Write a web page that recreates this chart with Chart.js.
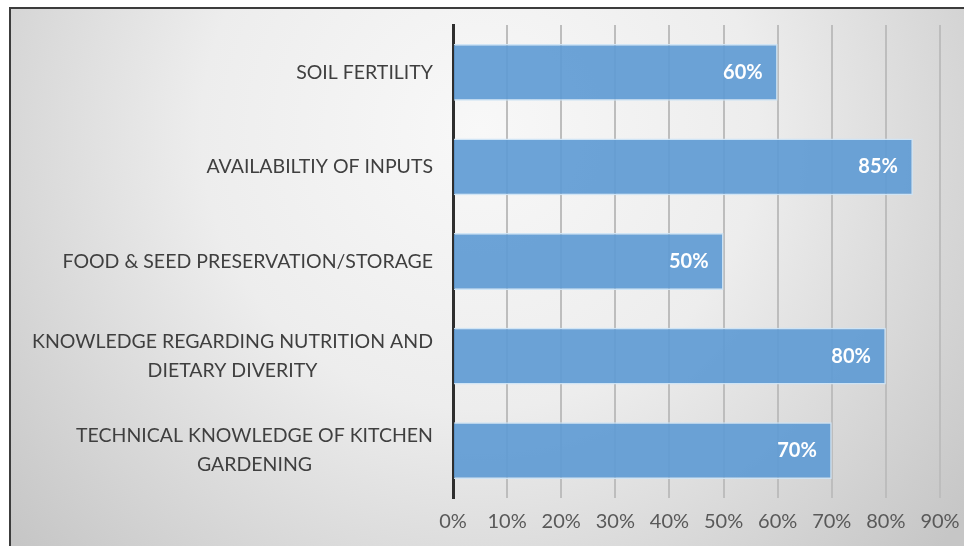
<!DOCTYPE html>
<html>
<head>
<meta charset="utf-8">
<script src="https://cdn.jsdelivr.net/npm/chart.js@4.4.1/dist/chart.umd.min.js"></script>
<style>
  html, body { margin: 0; padding: 0; background: #ffffff; }
  #wrap { position: relative; width: 964px; height: 546px; }
</style>
</head>
<body>
<div id="wrap"><canvas id="chart" width="964" height="546"></canvas></div>
<script>
// Constraints reported by respondents (share, %)
const categories = [
  ['SOIL FERTILITY'],
  ['AVAILABILTIY OF INPUTS'],
  ['FOOD & SEED PRESERVATION/STORAGE'],
  ['KNOWLEDGE REGARDING NUTRITION AND', 'DIETARY DIVERITY'],
  ['TECHNICAL KNOWLEDGE OF KITCHEN', 'GARDENING']
];
const shares = [60, 85, 50, 80, 70];
const tickValues = [0, 10, 20, 30, 40, 50, 60, 70, 80, 90];

const FONT = 'Lato, "Open Sans", sans-serif';

// Soft grey panel with a thin frame on the top and left edges
const panelBackground = {
  id: 'panelBackground',
  beforeDraw(chart) {
    const { ctx, width, height } = chart;
    ctx.save();
    ctx.fillStyle = '#ffffff';
    ctx.fillRect(0, 0, width, height);
    const g = ctx.createRadialGradient(480, 130, 0, 480, 130, 620);
    g.addColorStop(0, '#f8f8f8');
    g.addColorStop(0.45, '#ededed');
    g.addColorStop(1, '#c6c6c6');
    ctx.fillStyle = g;
    ctx.fillRect(9, 7, width - 9, height - 7);
    ctx.strokeStyle = '#3c3c3c';
    ctx.lineWidth = 2;
    ctx.beginPath();
    ctx.moveTo(width, 8);
    ctx.lineTo(10, 8);
    ctx.lineTo(10, height);
    ctx.stroke();
    ctx.restore();
  }
};

// Category names, lines centred within each right-aligned block
const categoryLabels = {
  id: 'categoryLabels',
  afterDraw(chart) {
    const { ctx } = chart;
    const y = chart.scales.y;
    const right = chart.chartArea.left - 20;
    const lineH = 29;
    ctx.save();
    ctx.font = '19.5px ' + FONT;
    ctx.fillStyle = '#3f3f3f';
    ctx.textAlign = 'center';
    ctx.textBaseline = 'middle';
    categories.forEach((lines, i) => {
      const cy = y.getPixelForValue(i);
      const w = Math.max(...lines.map(l => ctx.measureText(l).width));
      const cx = right - w / 2;
      const y0 = cy - (lines.length - 1) * lineH / 2;
      lines.forEach((l, k) => ctx.fillText(l, cx, y0 + k * lineH));
    });
    ctx.restore();
  }
};

// Value labels inside the end of each bar
const valueLabels = {
  id: 'valueLabels',
  afterDatasetsDraw(chart) {
    const { ctx } = chart;
    const meta = chart.getDatasetMeta(0);
    ctx.save();
    ctx.font = 'bold 20px ' + FONT;
    ctx.fillStyle = '#ffffff';
    ctx.textAlign = 'right';
    ctx.textBaseline = 'middle';
    meta.data.forEach((bar, i) => {
      ctx.fillText(shares[i] + '%', bar.x - 15, bar.y);
    });
    ctx.restore();
  }
};

new Chart(document.getElementById('chart'), {
  type: 'bar',
  data: {
    labels: categories.map(c => c.join(' ')),
    datasets: [{
      data: shares,
      backgroundColor: 'rgba(96,155,212,0.92)',
      borderColor: 'rgba(205,228,246,0.95)',
      borderWidth: 1.5,
      categoryPercentage: 1,
      barPercentage: 0.6
    }]
  },
  options: {
    indexAxis: 'y',
    responsive: false,
    animation: false,
    layout: { padding: { top: 25, right: 24, left: 0, bottom: 0 } },
    plugins: { legend: { display: false }, tooltip: { enabled: false } },
    scales: {
      x: {
        min: 0,
        max: 90,
        afterBuildTicks(scale) { scale.ticks = tickValues.map(v => ({ value: v })); },
        afterFit(scale) {
          scale.height = 48;
          scale.paddingLeft = 0;
          scale.paddingRight = 0;
        },
        ticks: {
          callback: v => v + '%',
          color: '#595959',
          font: { family: FONT, size: 20 },
          padding: 12,
          maxRotation: 0
        },
        grid: { color: '#bdbdbd', lineWidth: 2, drawTicks: false },
        border: { display: false }
      },
      y: {
        afterFit(scale) { scale.width = 453; },
        ticks: { display: false },
        grid: { display: false, drawTicks: false },
        border: { display: true, color: '#2e2e2e', width: 3 }
      }
    }
  },
  plugins: [panelBackground, categoryLabels, valueLabels]
});
</script>
</body>
</html>
